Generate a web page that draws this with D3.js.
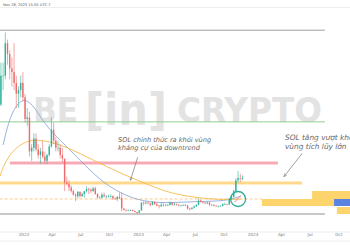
<!DOCTYPE html>
<html>
<head>
<meta charset="utf-8">
<script src="https://cdn.jsdelivr.net/npm/d3@7"></script>
<style>
  body { margin: 0; background: #fff; }
  svg { display: block; font-family: 'DejaVu Sans', sans-serif; }
</style>
</head>
<body>
<svg id="chart" width="350" height="250"></svg>
<script>
// SOL weekly candles, first week starts 2021-10-18
const FIRST_WEEK = '2021-10-18';
const FIRST_OPEN = 160;
const highs = [218,218,260,250,235,225,245,200,185,200,205,
  175,155,150,105,120,120,105,100,110,95,92,105,142,135,115,110,105,100,85,60,55,48,42,37,40,40,38,40,47,45,44,46,46,37,33,38,38,34,35,36,34,31,33,38,38,16,15,14.5,14.5,14.5,13,11,
  14,25,26,26,26,24,26,26,24,21,24,24,22,22,26,25,24,23,22,21,21.5,22,21,17,17.5,20,22,30,28,26,25,25,25,22,22,20.5,20,20.5,23,24,22.5,30,35,42,58,68,64,62];
const lows = [158,180,195,215,195,185,180,155,155,170,165,
  135,130,88,82,95,95,85,78,85,78,78,88,100,105,95,95,85,80,40,48,40,38,34,26,30,31,32,31,38,36,37,39,35,30,30,30,31,30,31,31,28,28,26,29,12,13,11.5,12.5,12.5,12,10.5,8,
  9.5,13,20,22,22,19,20,21,19,16,18,19,19,19.5,20,20,20,20,19,19,19.5,19.5,14,13,15,16,18,20,24,23,22,22,19,20,19,18.5,17.5,18.8,19,21,20.5,21,28,31,39,52,52,55];
const closes = [200,200,245,230,210,205,190,175,180,190,170,
  140,142,95,100,113,98,90,95,88,82,90,102,125,110,100,100,90,85,52,50,45,40,35,33,39,33,36,40,43,42,40,44,36,31,31,35,33,33,33,33,30,29,32,30,16,14,13.5,13.5,13.8,12.5,11,9.9,
  13,24,23,24,23,21,25,22,20,19,21,21,21,21,24,21,22,21,20,20,21,20,16,15,17,19,21,27,25,24,23,24.5,21,21,20,19,19,19.5,22,22,21.5,30,32,40,55,58,57,58];

// moving averages
const maBlueDates = ['2021-10-28','2021-11-19','2021-12-24','2022-01-28','2022-03-10','2022-04-27','2022-06-30','2022-09-02','2022-11-05','2023-01-17','2023-04-13','2023-07-17','2023-10-05','2023-11-25'];
const maBlueValues = [104,145,169,163,132,111,83,55,37,25,23.5,26,26,33];
const maOrangeDates = ['2021-10-18','2021-11-12','2022-01-06','2022-03-10','2022-05-20','2022-08-11','2022-11-05','2023-02-08','2023-04-13','2023-07-17','2023-10-05','2023-11-25'];
const maOrangeValues = [61,90,111,111,101,83,65,48,37,30,28,29];

// horizontal levels: [price, start, end]
const levelTop = [263, '2021-10-01', '2024-08-19'];
const levelGreen = [136, '2021-10-01', '2024-08-19'];
const levelPink = [79, '2021-11-19', '2024-03-22'];
const levelOrange = [51.3, '2021-10-01', '2024-06-07'];
const levelDashed = [29.1, '2021-10-01', '2024-01-31'];
const levelBottom = [8.3, '2021-10-01', '2024-08-19'];

// projection boxes on the right: [start, end, priceHigh, priceLow]
const boxesYellow = [['2024-01-31','2024-09-17',29.1,19.4], ['2024-07-09','2024-12-31',40.2,29.1], ['2024-09-26','2024-12-31',18,8.3]];
const boxesBlue = [['2024-09-17','2024-12-31',29.1,19.4]];

const tickDates = ['2022-01-01','2022-04-01','2022-07-01','2022-10-01','2023-01-01','2023-04-01','2023-07-01','2023-10-01','2024-01-01','2024-04-01','2024-07-01','2024-10-01'];
const tickLabels = ['2022','Apr','Jul','Oct','2023','Apr','Jul','Oct','2024','Apr','Jul','Oct'];

const parse = d3.utcParse('%Y-%m-%d');
const svg = d3.select('#chart');
const W = 350, H = 250;

const xScale = d3.scaleUtc().domain([parse('2022-01-01'), parse('2024-01-01')]).range([23.5, 252.5]);
const yScale = d3.scaleLinear().domain([0, 300]).range([220, 3.5]);

const candles = closes.map((c, i) => ({
  date: d3.utcDay.offset(parse(FIRST_WEEK), 7 * i + 3),
  open: i === 0 ? FIRST_OPEN : closes[i - 1],
  high: highs[i], low: lows[i], close: c
}));

svg.append('rect').attr('width', W).attr('height', H).attr('fill', '#fff');

// header
svg.append('text').attr('x', 3).attr('y', 5.5).attr('font-size', 3.6).attr('fill', '#555')
  .text('Nov 28, 2023 15:05 UTC-7');
svg.append('line').attr('x1', 0).attr('x2', W).attr('y1', 7.5).attr('y2', 7.5).attr('stroke', '#eee').attr('stroke-width', 1);

const plot = svg.append('g');
plot.append('clipPath').attr('id', 'clip').append('rect').attr('x', 0).attr('y', 8).attr('width', W).attr('height', 224);
const g = plot.append('g').attr('clip-path', 'url(#clip)');

// watermark
const wm = g.append('g').attr('fill', '#e3e3e3').attr('font-family', 'DejaVu Sans').attr('font-weight', 'bold');
wm.append('text').attr('x', 33).attr('y', 122).attr('font-size', 34).attr('textLength', 45).attr('lengthAdjust', 'spacingAndGlyphs').text('BE');
wm.append('text').attr('x', 85).attr('y', 125).attr('font-size', 44).attr('textLength', 82).attr('lengthAdjust', 'spacingAndGlyphs').text('[in]');
wm.append('text').attr('x', 177).attr('y', 122).attr('font-size', 34).attr('textLength', 145).attr('lengthAdjust', 'spacingAndGlyphs').text('CRYPTO');

// boxes
boxesYellow.forEach(b => {
  g.append('rect').attr('x', xScale(parse(b[0]))).attr('y', yScale(b[2]))
    .attr('width', xScale(parse(b[1])) - xScale(parse(b[0]))).attr('height', yScale(b[3]) - yScale(b[2]))
    .attr('fill', '#fdd36b');
});
boxesBlue.forEach(b => {
  g.append('rect').attr('x', xScale(parse(b[0]))).attr('y', yScale(b[2]))
    .attr('width', xScale(parse(b[1])) - xScale(parse(b[0]))).attr('height', yScale(b[3]) - yScale(b[2]))
    .attr('fill', '#5a82e0');
});

// levels
function level(l, color, width, dash) {
  g.append('line').attr('x1', xScale(parse(l[1]))).attr('x2', xScale(parse(l[2])))
    .attr('y1', yScale(l[0])).attr('y2', yScale(l[0]))
    .attr('stroke', color).attr('stroke-width', width).attr('stroke-dasharray', dash || null);
}
level(levelTop, '#a0a0a0', 1);
level(levelGreen, '#8fce8f', 1);
level(levelPink, '#f6aab4', 3);
level(levelOrange, '#ffd88a', 3);
level(levelDashed, '#fcc98a', 1, '3,2');
level(levelBottom, '#c8c8c8', 2);

// moving averages
const line = d3.line().x(d => xScale(d[0])).y(d => yScale(d[1])).curve(d3.curveBasis);
g.append('path').datum(maBlueDates.map((d, i) => [parse(d), maBlueValues[i]]))
  .attr('d', line).attr('fill', 'none').attr('stroke', '#7f9fd6').attr('stroke-width', 0.8);
g.append('path').datum(maOrangeDates.map((d, i) => [parse(d), maOrangeValues[i]]))
  .attr('d', line).attr('fill', 'none').attr('stroke', '#f5b94c').attr('stroke-width', 0.9);

// candles
const cw = 1.4;
const cg = g.append('g').selectAll('g').data(candles).enter().append('g')
  .attr('stroke', d => d.close >= d.open ? '#2eb39a' : '#ef6a6a')
  .attr('fill', d => d.close >= d.open ? '#2eb39a' : '#ef6a6a');
cg.append('line').attr('x1', d => xScale(d.date)).attr('x2', d => xScale(d.date))
  .attr('y1', d => yScale(d.high)).attr('y2', d => yScale(d.low)).attr('stroke-width', 0.6);
cg.append('rect').attr('x', d => xScale(d.date) - cw / 2).attr('width', cw)
  .attr('y', d => yScale(Math.max(d.open, d.close)))
  .attr('height', d => Math.max(0.6, Math.abs(yScale(d.open) - yScale(d.close))))
  .attr('stroke', 'none');

// breakout circle
const circleAt = ['2023-11-16', 29.1];
g.append('circle').attr('cx', xScale(parse(circleAt[0]))).attr('cy', yScale(circleAt[1])).attr('r', 7.5)
  .attr('fill', 'none').attr('stroke', '#2fae95').attr('stroke-width', 1.3);
const circleLine = [['2023-11-04', 24.5], ['2023-11-25', 34]];
g.append('line').attr('x1', xScale(parse(circleLine[0][0]))).attr('y1', yScale(circleLine[0][1]))
  .attr('x2', xScale(parse(circleLine[1][0]))).attr('y2', yScale(circleLine[1][1]))
  .attr('stroke', '#f08a8a').attr('stroke-width', 1);

// annotations
const defs = svg.append('defs');
defs.append('marker').attr('id', 'arr').attr('viewBox', '0 0 10 10').attr('refX', 9).attr('refY', 5)
  .attr('markerWidth', 5).attr('markerHeight', 5).attr('orient', 'auto')
  .append('path').attr('d', 'M0,1 L9,5 L0,9').attr('fill', 'none').attr('stroke', '#777').attr('stroke-width', 1.5);

const arrows = [[['2022-12-31', 87], ['2022-12-08', 55]], [['2024-06-07', 92], ['2024-04-10', 60]]];
arrows.forEach(a => {
  g.append('line').attr('x1', xScale(parse(a[0][0]))).attr('y1', yScale(a[0][1]))
    .attr('x2', xScale(parse(a[1][0]))).attr('y2', yScale(a[1][1]))
    .attr('stroke', '#777').attr('stroke-width', 0.7).attr('marker-end', 'url(#arr)');
});

const note1 = g.append('text').attr('font-size', 6.6).attr('font-style', 'italic').attr('fill', '#666');
note1.append('tspan').attr('x', 118).attr('y', 142).text('SOL chính thức ra khỏi vùng');
note1.append('tspan').attr('x', 118).attr('y', 150).text('kháng cự của downtrend');
const note2 = g.append('text').attr('font-size', 7.4).attr('font-style', 'italic').attr('fill', '#666');
note2.append('tspan').attr('x', 285).attr('y', 140).text('SOL tăng vượt khỏi');
note2.append('tspan').attr('x', 285).attr('y', 149).text('vùng tích lũy lớn');

// x axis
svg.append('line').attr('x1', 0).attr('x2', W).attr('y1', 232).attr('y2', 232).attr('stroke', '#eee');
svg.append('line').attr('x1', 0).attr('x2', W).attr('y1', 241).attr('y2', 241).attr('stroke', '#eee');
const xAxis = d3.axisBottom(xScale).tickValues(tickDates.map(parse))
  .tickFormat((d, i) => tickLabels[i]).tickSize(0).tickPadding(0);
const ax = svg.append('g').attr('transform', 'translate(0,233)').call(xAxis);
ax.select('.domain').remove();
ax.selectAll('text').attr('font-size', 4.2).attr('fill', '#777').attr('font-family', 'DejaVu Sans');
</script>
</body>
</html>
